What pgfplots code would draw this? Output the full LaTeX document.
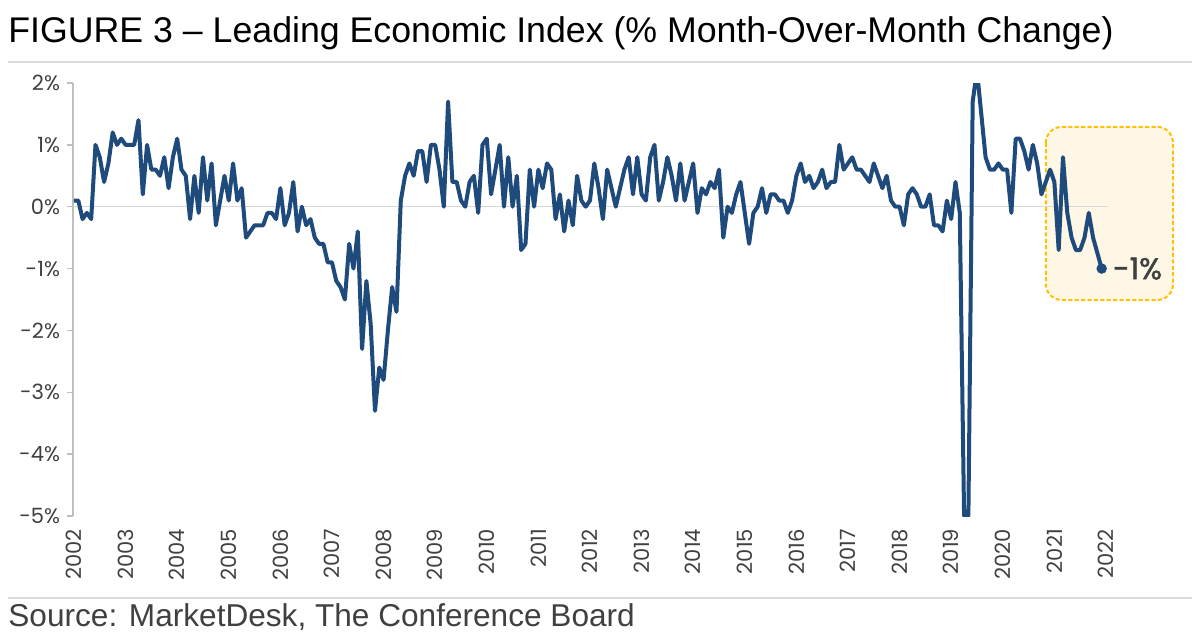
\documentclass[border=0pt]{standalone}
\usepackage{fontspec}
\usepackage{pgfplots}
\pgfplotsset{compat=1.18}
\usepackage{pgfplotstable}
\setmainfont{Liberation Sans}
\newfontfamily\tickfont{Poppins}
\newfontfamily\annotfont{Poppins}[FakeBold=1.6]
\definecolor{lineblue}{HTML}{1F4A7C}
\definecolor{axisgray}{HTML}{BFBFBF}
\definecolor{zerogray}{HTML}{D9D9D9}
\definecolor{labelgray}{HTML}{404040}
\definecolor{boxgold}{HTML}{FFC000}
\definecolor{boxfill}{HTML}{FEF7E6}

\pgfplotstableread{
v
0.1
0.1
-0.2
-0.1
-0.2
1.0
0.8
0.4
0.7
1.2
1.0
1.1
1.0
1.0
1.0
1.4
0.2
1.0
0.6
0.6
0.5
0.8
0.3
0.8
1.1
0.6
0.5
-0.2
0.5
-0.1
0.8
0.1
0.7
-0.3
0.1
0.5
0.1
0.7
0.1
0.3
-0.5
-0.4
-0.3
-0.3
-0.3
-0.1
-0.1
-0.2
0.3
-0.3
-0.1
0.4
-0.4
0.0
-0.3
-0.2
-0.5
-0.6
-0.6
-0.9
-0.9
-1.2
-1.3
-1.5
-0.6
-1.0
-0.4
-2.3
-1.2
-1.9
-3.3
-2.6
-2.8
-2.0
-1.3
-1.7
0.1
0.5
0.7
0.5
0.9
0.9
0.4
1.0
1.0
0.6
0.0
1.7
0.4
0.4
0.1
0.0
0.4
0.5
-0.1
1.0
1.1
0.2
0.6
1.0
0.0
0.8
0.0
0.5
-0.7
-0.6
0.6
0.0
0.6
0.3
0.7
0.6
-0.2
0.2
-0.4
0.1
-0.3
0.5
0.1
0.0
0.1
0.7
0.3
-0.2
0.6
0.3
0.0
0.3
0.6
0.8
0.2
0.8
0.2
0.1
0.8
1.0
0.1
0.4
0.8
0.5
0.1
0.7
0.1
0.4
0.7
-0.1
0.3
0.2
0.4
0.3
0.6
-0.5
0.0
-0.1
0.2
0.4
-0.1
-0.6
-0.1
0.0
0.3
-0.1
0.2
0.2
0.1
0.1
-0.1
0.1
0.5
0.7
0.4
0.5
0.3
0.4
0.6
0.3
0.4
0.4
1.0
0.6
0.7
0.8
0.6
0.6
0.5
0.4
0.7
0.5
0.3
0.5
0.1
0.0
0.0
-0.3
0.2
0.3
0.2
0.0
0.0
0.2
-0.3
-0.3
-0.4
0.1
-0.2
0.4
-0.1
-5.0
-5.0
1.7
2.2
1.5
0.8
0.6
0.6
0.7
0.6
0.6
-0.1
1.1
1.1
0.9
0.6
1.0
0.7
0.2
0.4
0.6
0.4
-0.7
0.8
-0.1
-0.5
-0.7
-0.7
-0.5
-0.1
-0.5
-0.75
-1.0
}\leidata

\begin{document}
\begin{tikzpicture}
\path[use as bounding box] (0,0) rectangle (600bp,-322bp);
% title
\node[anchor=base west, inner sep=0, text=black] at (4bp,-21bp)
  {\fontsize{17.85bp}{20bp}\selectfont FIGURE 3 -- Leading Economic Index (\% Month-Over-Month Change)};
\draw[zerogray, line width=0.75bp] (4bp,-31bp) -- (596bp,-31bp);
% source
\draw[zerogray, line width=0.75bp] (4bp,-299bp) -- (596bp,-299bp);
\node[anchor=base west, inner sep=0, text=labelgray] at (4bp,-313bp)
  {\fontsize{15.8bp}{18bp}\selectfont Source: MarketDesk, The Conference Board};
% highlight box
\draw[boxgold, line width=1bp, dash pattern=on 2bp off 1.2bp, fill=boxfill, rounded corners=8bp]
  (522.9bp,-63.4bp) rectangle (586.5bp,-150bp);
\begin{axis}[
  at={(36.5bp,-258bp)}, anchor=south west,
  scale only axis, width=517.5bp, height=216.5bp,
  xmin=-0.23, xmax=240.47, ymin=-5, ymax=2,
  clip mode=individual,
  axis y line=left, axis x line=bottom,
  x axis line style={draw=none},
  y axis line style={-, draw=axisgray, line width=0.75bp},
  xtick={0,12,...,240},
  xticklabels={2002,2003,2004,2005,2006,2007,2008,2009,2010,2011,2012,2013,2014,2015,2016,2017,2018,2019,2020,2021,2022},
  xtick style={draw=none},
  ytick={-5,-4,-3,-2,-1,0,1,2},
  yticklabels={-5\%,-4\%,-3\%,-2\%,-1\%,0\%,1\%,2\%},
  ytick style={draw=axisgray, line width=0.75bp},
  tick align=outside, major tick length=3bp,
  extra y ticks={0}, extra y tick labels={},
  extra y tick style={grid=major, major grid style={zerogray, line width=0.75bp}},
  xticklabel style={rotate=90, anchor=east, text=labelgray, font=\tickfont\fontsize{10.5bp}{12bp}\selectfont},
  yticklabel style={text=labelgray, font=\tickfont\fontsize{10.5bp}{12bp}\selectfont},
]
\addplot[lineblue, line width=2bp, line join=round] table[x expr=\coordindex, y=v] {\leidata};
\addplot[only marks, mark=*, mark size=2.4bp, mark options={fill=lineblue, draw=lineblue}]
  table[x expr=\coordindex, y=v, restrict expr to domain={\coordindex}{239:239}] {\leidata};
\node[anchor=west, inner sep=0, xshift=5.5bp, text=labelgray, font=\annotfont\fontsize{15bp}{17bp}\selectfont]
  at (axis cs:239,-1.0) {-1\%};
\end{axis}
\end{tikzpicture}
\end{document}
